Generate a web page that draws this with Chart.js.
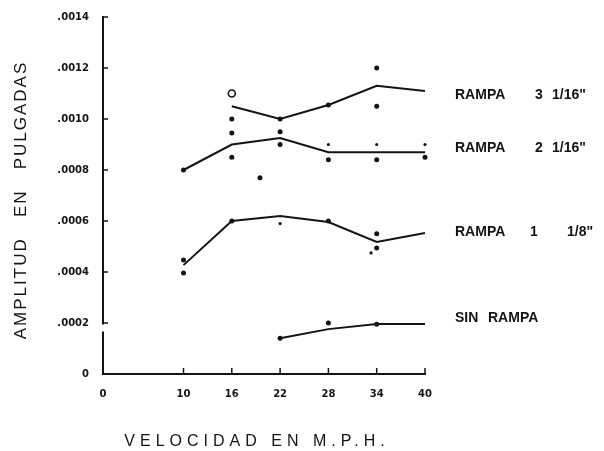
<!DOCTYPE html>
<html>
<head>
<meta charset="utf-8">
<script src="https://cdn.jsdelivr.net/npm/chart.js@4.4.1/dist/chart.umd.min.js"></script>
<style>
  html, body { margin: 0; padding: 0; background: #fff; }
  #wrap { width: 604px; height: 451px; }
</style>
</head>
<body>
<div id="wrap"><canvas id="c"></canvas></div>
<script>
// speeds shown on the x axis (M.P.H.)
const xTicks = [0, 10, 16, 22, 28, 34, 40];

// faired curves, amplitude in inches
const rampa3X = [16, 22, 28, 34, 40];
const rampa3Y = [0.00105, 0.00100, 0.001055, 0.00113, 0.00111];
const rampa2X = [10, 16, 22, 28, 34, 40];
const rampa2Y = [0.00080, 0.00090, 0.000925, 0.00087, 0.00087, 0.00087];
const rampa1X = [10, 16, 22, 28, 34, 40];
const rampa1Y = [0.000427, 0.00060, 0.00062, 0.000596, 0.000518, 0.000553];
const sinX = [22, 28, 34, 40];
const sinY = [0.00014, 0.000176, 0.000196, 0.000196];

// measured points
const rampa3DotsX = [16, 16, 22, 28, 34, 34];
const rampa3DotsY = [0.0010, 0.000945, 0.00100, 0.001055, 0.00105, 0.0012];
const rampa3OpenX = [16];
const rampa3OpenY = [0.0011];
const rampa2DotsX = [10, 16, 22, 22, 28, 34, 40, 19.5];
const rampa2DotsY = [0.0008, 0.00085, 0.00095, 0.0009, 0.00084, 0.00084, 0.00085, 0.00077];
const rampa2SmallX = [28, 34, 40];
const rampa2SmallY = [0.0009, 0.0009, 0.0009];
const rampa1DotsX = [10, 10, 16, 28, 34, 34];
const rampa1DotsY = [0.000447, 0.000396, 0.0006, 0.0006, 0.00055, 0.000494];
const rampa1SmallX = [22, 33.3];
const rampa1SmallY = [0.00059, 0.000475];
const sinDotsX = [22, 28, 34];
const sinDotsY = [0.00014, 0.0002, 0.000195];

// curve names written at the right
const curveNames = [['RAMPA', '3', '1/16"'], ['RAMPA', '2', '1/16"'], ['RAMPA', '1', '1/8"'], ['SIN', 'RAMPA']];
const curveNameY = [0.001094, 0.000886, 0.000557, 0.00022];

const ink = '#141414';
const pts = (xs, ys) => xs.map((x, i) => ({ x, y: ys[i] }));

const line = (xs, ys) => ({
  data: pts(xs, ys), showLine: true, borderColor: ink, borderWidth: 2,
  pointRadius: 0, tension: 0
});
const dots = (xs, ys, r) => ({
  data: pts(xs, ys), showLine: false, pointRadius: r,
  pointBackgroundColor: ink, pointBorderColor: ink, pointBorderWidth: 0
});

// inward ticks, axis break, titles and curve names
const decor = {
  id: 'decor',
  afterDraw(chart) {
    const { ctx, chartArea: a } = chart;
    const x = chart.scales.x, y = chart.scales.y;
    ctx.save();
    ctx.strokeStyle = ink;
    ctx.lineWidth = 1.5;
    ctx.beginPath();
    x.ticks.forEach(t => {
      if (t.value === 0) return;
      const px = x.getPixelForValue(t.value);
      ctx.moveTo(px, a.bottom);
      ctx.lineTo(px, a.bottom - 6);
    });
    y.ticks.forEach(t => {
      if (t.value === 0) return;
      const py = y.getPixelForValue(t.value);
      ctx.moveTo(a.left, py);
      ctx.lineTo(a.left + 5, py);
    });
    ctx.stroke();

    // small break in the y axis just under .0002
    const yb = y.getPixelForValue(0.0002);
    ctx.fillStyle = '#fff';
    ctx.fillRect(a.left - 3, yb + 1.5, 6, 7);

    ctx.fillStyle = ink;
    ctx.textBaseline = 'middle';

    // axis titles
    ctx.font = '16px "Liberation Sans"';
    ctx.letterSpacing = '5px';
    ctx.textAlign = 'center';
    ctx.fillText('VELOCIDAD EN M.P.H.', 257, 442);

    ctx.font = '17px "Liberation Sans"';
    ctx.letterSpacing = '2px';
    ctx.save();
    ctx.translate(21, 200);
    ctx.rotate(-Math.PI / 2);
    ctx.fillText('AMPLITUD   EN   PULGADAS', 0, 0);
    ctx.restore();

    // curve names
    ctx.font = 'bold 14px "Liberation Sans"';
    ctx.letterSpacing = '0px';
    ctx.textAlign = 'left';
    const offsets = [[30, 110, 127], [30, 110, 127], [30, 105, 142], [30, 63]];
    curveNames.forEach((parts, i) => {
      const py = y.getPixelForValue(curveNameY[i]);
      parts.forEach((p, j) => ctx.fillText(p, a.right + offsets[i][j], py));
    });
    ctx.restore();
  }
};

const tickFont = { family: 'DejaVu Sans', size: 10, weight: 'bold' };

new Chart(document.getElementById('c'), {
  type: 'scatter',
  data: {
    datasets: [
      line(rampa3X, rampa3Y),
      line(rampa2X, rampa2Y),
      line(rampa1X, rampa1Y),
      line(sinX, sinY),
      dots(rampa3DotsX, rampa3DotsY, 2.5),
      {
        data: pts(rampa3OpenX, rampa3OpenY), showLine: false, pointRadius: 3.5,
        pointBackgroundColor: '#fff', pointBorderColor: ink, pointBorderWidth: 1.6
      },
      dots(rampa2DotsX, rampa2DotsY, 2.5),
      dots(rampa2SmallX, rampa2SmallY, 1.6),
      dots(rampa1DotsX, rampa1DotsY, 2.5),
      dots(rampa1SmallX, rampa1SmallY, 1.6),
      dots(sinDotsX, sinDotsY, 2.5)
    ]
  },
  options: {
    responsive: true,
    maintainAspectRatio: false,
    animation: false,
    events: [],
    layout: { padding: { top: 17, right: 179, left: 0, bottom: 0 } },
    plugins: { legend: { display: false }, tooltip: { enabled: false } },
    elements: { point: { hitRadius: 0 } },
    clip: false,
    scales: {
      x: {
        type: 'linear', min: 0, max: 40,
        afterBuildTicks: s => { s.ticks = xTicks.map(v => ({ value: v })); },
        afterFit: s => { s.height = 77; },
        grid: { display: false },
        border: { display: true, color: ink, width: 2 },
        ticks: { color: ink, font: tickFont, padding: 6, maxRotation: 0, autoSkip: false }
      },
      y: {
        type: 'linear', min: 0, max: 0.0014,
        afterFit: s => { s.width = 103; },
        grid: { display: false },
        border: { display: true, color: ink, width: 2 },
        ticks: {
          color: ink, font: tickFont, padding: 6, stepSize: 0.0002,
          callback: v => v === 0 ? '0' : '.' + String(Math.round(v * 10000)).padStart(4, '0')
        }
      }
    }
  },
  plugins: [decor]
});
</script>
</body>
</html>
